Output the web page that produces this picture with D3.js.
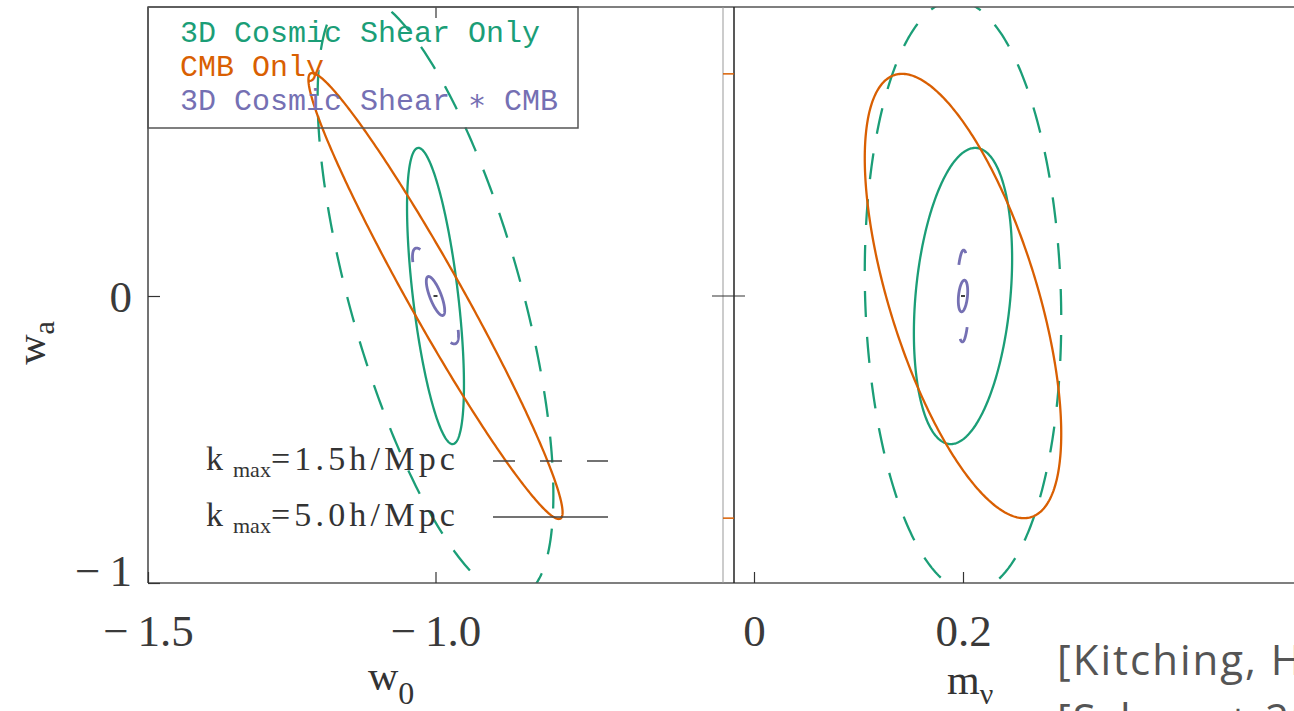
<!DOCTYPE html>
<html>
<head>
<meta charset="utf-8">
<script src="https://d3js.org/d3.v7.min.js"></script>
<style>
  body { margin: 0; background: #fff; }
  svg text { font-family: "Liberation Serif", serif; }
</style>
</head>
<body>
<div id="chart"></div>
<script>
// fiducial model
var w0Fid = -1.0, waFid = 0.0, mnuFid = 0.2;

// legend
var seriesNames = ["3D Cosmic Shear Only", "CMB Only", "3D Cosmic Shear \u2217 CMB"];
var seriesColors = ["#1b9e77", "#d95f02", "#7570b3"];
var kmaxNames = ["1.5h/Mpc", "5.0h/Mpc"];
var kmaxDash = ["22,25", null];

// contours: series index, kmax index (-1 = none), sigma_x, sigma_wa, correlation
var w0waContours = [
  {s: 0, k: 0, sx: 0.205, sy: 1.05, rho: -0.66},
  {s: 0, k: 1, sx: 0.0495, sy: 0.516, rho: -0.6},
  {s: 1, k: -1, sx: 0.221, sy: 0.777, rho: -0.97},
  {s: 2, k: 0, sx: 0.04, sy: 0.167, rho: -0.82},
  {s: 2, k: 1, sx: 0.016, sy: 0.068, rho: -0.75}
];
var mnuwaContours = [
  {s: 0, k: 0, sx: 0.094, sy: 1.03, rho: -0.08},
  {s: 0, k: 1, sx: 0.047, sy: 0.516, rho: 0.25},
  {s: 1, k: -1, sx: 0.094, sy: 0.774, rho: -0.62},
  {s: 2, k: 0, sx: 0.006, sy: 0.16, rho: 0.1},
  {s: 2, k: 1, sx: 0.0045, sy: 0.055, rho: 0.3}
];

// ticks
var w0Ticks = [-1.5, -1.0];
var mnuTicks = [0, 0.2];
var waTicks = [-1, 0];

var width = 1294, height = 711;
var yTop = 7, yBottom = 583;
var L = {x0: 148, x1: 723}, R = {x0: 734, x1: 1294};

var svg = d3.select("#chart").append("svg")
  .attr("width", width).attr("height", height);

var xL = d3.scaleLinear().domain([-1.5, -0.5]).range([L.x0, L.x1]);
var xR = d3.scaleLinear().domain([0, 0.2]).range([754, 963]);
var y = d3.scaleLinear().domain([-1, 1]).range([yBottom, 9]);

var defs = svg.append("defs");
defs.append("clipPath").attr("id", "clipL").append("rect")
  .attr("x", L.x0).attr("y", yTop).attr("width", L.x1 - L.x0).attr("height", yBottom - yTop);
defs.append("clipPath").attr("id", "clipR").append("rect")
  .attr("x", R.x0).attr("y", yTop).attr("width", R.x1 - R.x0 + 20).attr("height", yBottom - yTop);

// ellipse from marginal errors + correlation, starting at its top (max wa) point
function ellipse(cx, cy, e) {
  var phi = Math.asin(e.rho), t0 = Math.PI / 2 - phi;
  return d3.range(0, 360, 1).map(function(deg) {
    var t = t0 + deg * Math.PI / 180;
    return [cx + e.sx * Math.cos(t),
            cy + e.sy * (e.rho * Math.cos(t) + Math.sqrt(1 - e.rho * e.rho) * Math.sin(t))];
  });
}

function drawPanel(contours, x, cx, clip) {
  var g = svg.append("g").attr("clip-path", "url(#" + clip + ")");
  var line = d3.line().x(function(d) { return x(d[0]); }).y(function(d) { return y(d[1]); })
    .curve(d3.curveLinearClosed);
  g.selectAll("path").data(contours).enter().append("path")
    .attr("d", function(d) { return line(ellipse(cx, waFid, d)); })
    .attr("fill", "none")
    .attr("stroke", function(d) { return seriesColors[d.s]; })
    .attr("stroke-width", function(d) { return d.s == 2 ? 2.8 : 2.3; })
    .each(function(d) {
      if (d.k != 0) return;
      if (d.s == 2) {
        // only the tips of the small combined contour show dashes
        var half = this.getTotalLength() / 2, dash = 20;
        d3.select(this).attr("stroke-dasharray", dash + "," + (half - dash))
          .attr("stroke-dashoffset", 4);
      } else {
        d3.select(this).attr("stroke-dasharray", "26,20");
      }
    });
  // fiducial mark
  g.append("line")
    .attr("x1", x(cx) - 2).attr("x2", x(cx) + 2)
    .attr("y1", y(waFid)).attr("y2", y(waFid))
    .attr("stroke", "#000").attr("stroke-width", 1.5);
}

drawPanel(w0waContours, xL, w0Fid, "clipL");
drawPanel(mnuwaContours, xR, mnuFid, "clipR");

// frame
var frame = svg.append("g").attr("stroke", "#555").attr("stroke-width", 1.5);
frame.append("line").attr("x1", L.x0).attr("x2", R.x1).attr("y1", yTop).attr("y2", yTop);
frame.append("line").attr("x1", L.x0).attr("x2", R.x1).attr("y1", yBottom).attr("y2", yBottom);
frame.append("line").attr("x1", L.x0).attr("x2", L.x0).attr("y1", yTop).attr("y2", yBottom).attr("stroke", "#444");
frame.append("line").attr("x1", L.x1).attr("x2", L.x1).attr("y1", yTop).attr("y2", yBottom)
  .attr("stroke", "#999").attr("stroke-width", 1);
frame.append("line").attr("x1", R.x0).attr("x2", R.x0).attr("y1", yTop).attr("y2", yBottom)
  .attr("stroke", "#222");
// wa = 0 tick across the gap
frame.append("line").attr("x1", L.x1 - 11).attr("x2", R.x0 + 11)
  .attr("y1", y(0)).attr("y2", y(0)).attr("stroke", "#333").attr("stroke-width", 1.2);
// CMB wa extent marks in the gap
var cmbR = mnuwaContours.filter(function(d) { return d.s == 1; })[0];
svg.selectAll(".cmbmark").data([waFid + cmbR.sy, waFid - cmbR.sy]).enter().append("line")
  .attr("x1", L.x1).attr("x2", R.x0)
  .attr("y1", function(d) { return y(d); }).attr("y2", function(d) { return y(d); })
  .attr("stroke", seriesColors[1]).attr("stroke-width", 1.5);

// axes
function minusFmt(f) {
  return function(d) { return d3.format(f)(d).replace("\u2212", "\u2212\u2009"); };
}
function styleAxis(g) {
  g.select(".domain").remove();
  g.selectAll(".tick line").attr("stroke", "#333").attr("stroke-width", 1.2);
  g.selectAll(".tick text").attr("fill", "#3a3a3a").style("font-size", "45px")
    .style("font-family", "Liberation Serif, serif");
}

svg.append("g").attr("transform", "translate(" + L.x0 + ",0)")
  .call(d3.axisLeft(y).tickValues(waTicks).tickSizeInner(-12).tickSizeOuter(0)
    .tickPadding(16).tickFormat(minusFmt(".0f")))
  .call(styleAxis)
  .selectAll(".tick text").attr("dy", function(d) { return d == -1 ? "0.05em" : "0.34em"; });

svg.append("g").attr("transform", "translate(0," + yBottom + ")")
  .call(d3.axisBottom(xL).tickValues(w0Ticks).tickSizeInner(-11).tickSizeOuter(0)
    .tickPadding(31).tickFormat(minusFmt(".1f")))
  .call(styleAxis);
svg.append("g").attr("transform", "translate(0," + yTop + ")")
  .call(d3.axisTop(xL).tickValues([-1.0]).tickSizeInner(-11).tickSizeOuter(0).tickFormat(""))
  .call(styleAxis);

svg.append("g").attr("transform", "translate(0," + yBottom + ")")
  .call(d3.axisBottom(xR).tickValues(mnuTicks).tickSizeInner(-11).tickSizeOuter(0)
    .tickPadding(31).tickFormat(function(d) { return d == 0 ? "0" : d3.format(".1f")(d); }))
  .call(styleAxis);

// axis titles
var titleColor = "#333";
var wa = svg.append("text").attr("transform", "translate(45,343) rotate(-90)")
  .attr("text-anchor", "middle").attr("fill", titleColor).style("font-size", "42px");
wa.append("tspan").text("w");
wa.append("tspan").attr("dy", 9).style("font-size", "30px").text("a");

var w0 = svg.append("text").attr("x", 368).attr("y", 690)
  .attr("fill", titleColor).style("font-size", "42px");
w0.append("tspan").text("w");
w0.append("tspan").attr("dy", 14).style("font-size", "32px").text("0");

var mnu = svg.append("text").attr("x", 947).attr("y", 694)
  .attr("fill", titleColor).style("font-size", "42px");
mnu.append("tspan").text("m");
mnu.append("tspan").attr("dy", 10).style("font-size", "30px").text("\u03bd");

// series legend
svg.append("rect").attr("x", L.x0).attr("y", yTop).attr("width", 578 - L.x0).attr("height", 128 - yTop)
  .attr("fill", "none").attr("stroke", "#555").attr("stroke-width", 1.5);
svg.selectAll(".leg").data(seriesNames).enter().append("text")
  .attr("x", 180).attr("y", function(d, i) { return 42 + i * 34; })
  .attr("fill", function(d, i) { return seriesColors[i]; })
  .style("font-family", "Liberation Mono, monospace").style("font-size", "30px")
  .text(function(d) { return d; });

// kmax legend
kmaxNames.forEach(function(name, i) {
  var by = 470 + i * 56;
  var t = svg.append("text").attr("x", 206).attr("y", by).attr("fill", "#333")
    .style("font-size", "34px");
  t.append("tspan").text("k");
  t.append("tspan").attr("dx", 10).attr("dy", 7).style("font-size", "22px").text("max");
  t.append("tspan").attr("dy", -7).style("letter-spacing", "4.2px").text("=" + name);
  svg.append("line").attr("x1", 493).attr("x2", 608).attr("y1", by - 9).attr("y2", by - 9)
    .attr("stroke", "#444").attr("stroke-width", 1.5)
    .attr("stroke-dasharray", kmaxDash[i]);
});

// reference
var refs = ["[Kitching, Heavens et al. 2014]", "[Schaan+ 2017]"];
svg.selectAll(".ref").data(refs).enter().append("text")
  .attr("x", 1057).attr("y", function(d, i) { return 675 + i * 59; })
  .attr("fill", "#555")
  .style("font-family", "Open Sans, sans-serif").style("font-size", "42px")
  .style("letter-spacing", "2px")
  .text(function(d) { return d; });
</script>
</body>
</html>
